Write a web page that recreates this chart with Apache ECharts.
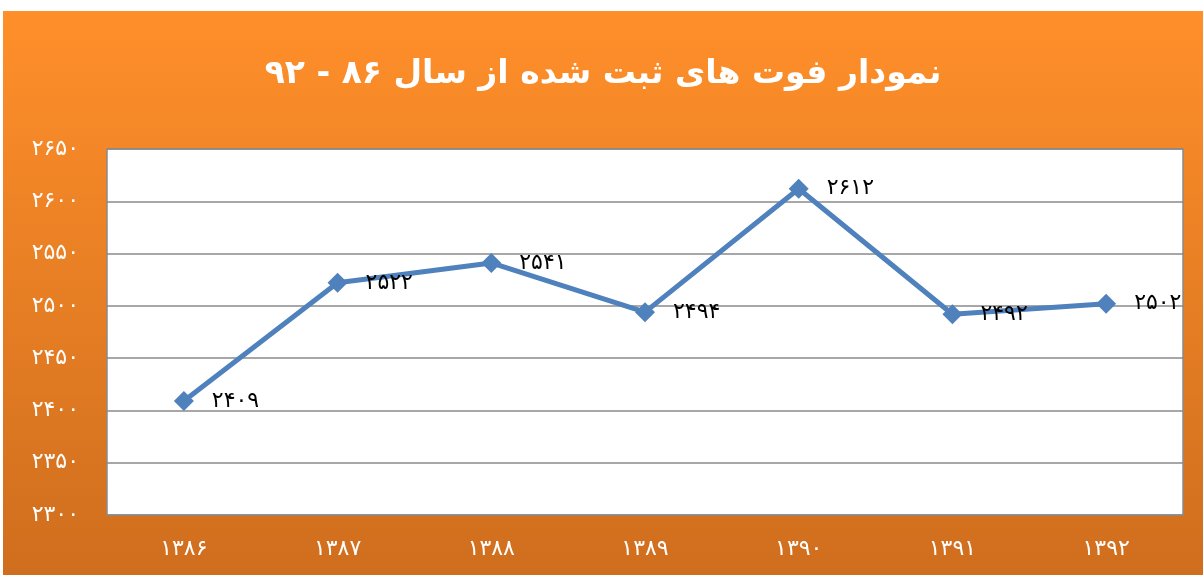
<!DOCTYPE html>
<html>
<head>
<meta charset="utf-8">
<script src="https://cdn.jsdelivr.net/npm/echarts@6/dist/echarts.min.js"></script>
<style>
  html, body { margin: 0; padding: 0; background: #fff; }
  #chart { position: absolute; left: 3px; top: 11px; width: 1200px; height: 564px; }
</style>
</head>
<body>
<div id="chart"></div>
<script>
// سال‌ها و تعداد فوت ثبت شده
const years = ['۱۳۸۶', '۱۳۸۷', '۱۳۸۸', '۱۳۸۹', '۱۳۹۰', '۱۳۹۱', '۱۳۹۲']
const deaths = [2409, 2522, 2541, 2494, 2612, 2492, 2502]
const titleText = 'نمودار فوت های ثبت شده از سال ۸۶ - ۹۲'

// تبدیل ارقام لاتین به فارسی
const faDigits = '۰۱۲۳۴۵۶۷۸۹'
const toFa = (v) => String(v).replace(/[0-9]/g, d => faDigits[d])

const chart = echarts.init(document.getElementById('chart'))

const option = {
  animation: false,
  backgroundColor: {
    type: 'linear', x: 0, y: 0, x2: 0, y2: 1,
    colorStops: [
      { offset: 0, color: '#ff8f2a' },
      { offset: 1, color: '#cf6e1e' }
    ]
  },
  title: {
    text: titleText,
    left: 'center',
    top: 42,
    textStyle: {
      color: '#fff',
      fontSize: 33,
      fontWeight: 'bold',
      fontFamily: 'DejaVu Sans'
    }
  },
  grid: {
    left: 104,
    right: 20,
    top: 138,
    bottom: 60,
    show: true,
    backgroundColor: '#fff',
    borderColor: '#8a8a8a',
    borderWidth: 1.5
  },
  xAxis: {
    type: 'category',
    data: years,
    boundaryGap: true,
    axisLine: { show: false },
    axisTick: { show: false },
    axisLabel: {
      color: '#fff',
      fontSize: 22,
      margin: 23,
      fontFamily: 'DejaVu Sans'
    }
  },
  yAxis: {
    type: 'value',
    min: 2300,
    max: 2650,
    interval: 50,
    axisLine: { show: false },
    axisTick: { show: false },
    splitLine: { lineStyle: { color: '#8a8a8a', width: 1.5 } },
    axisLabel: {
      color: '#fff',
      fontSize: 22,
      margin: 28,
      fontFamily: 'DejaVu Sans',
      formatter: v => toFa(v)
    }
  },
  series: [
    {
      type: 'line',
      data: deaths,
      symbol: 'diamond',
      symbolSize: 20,
      lineStyle: { color: '#4f81bd', width: 5 },
      itemStyle: { color: '#4f81bd' },
      label: {
        show: true,
        position: 'right',
        distance: 18,
        color: '#000',
        fontSize: 22,
        fontFamily: 'DejaVu Sans',
        formatter: p => toFa(p.value)
      }
    }
  ]
}

chart.setOption(option)
</script>
</body>
</html>
